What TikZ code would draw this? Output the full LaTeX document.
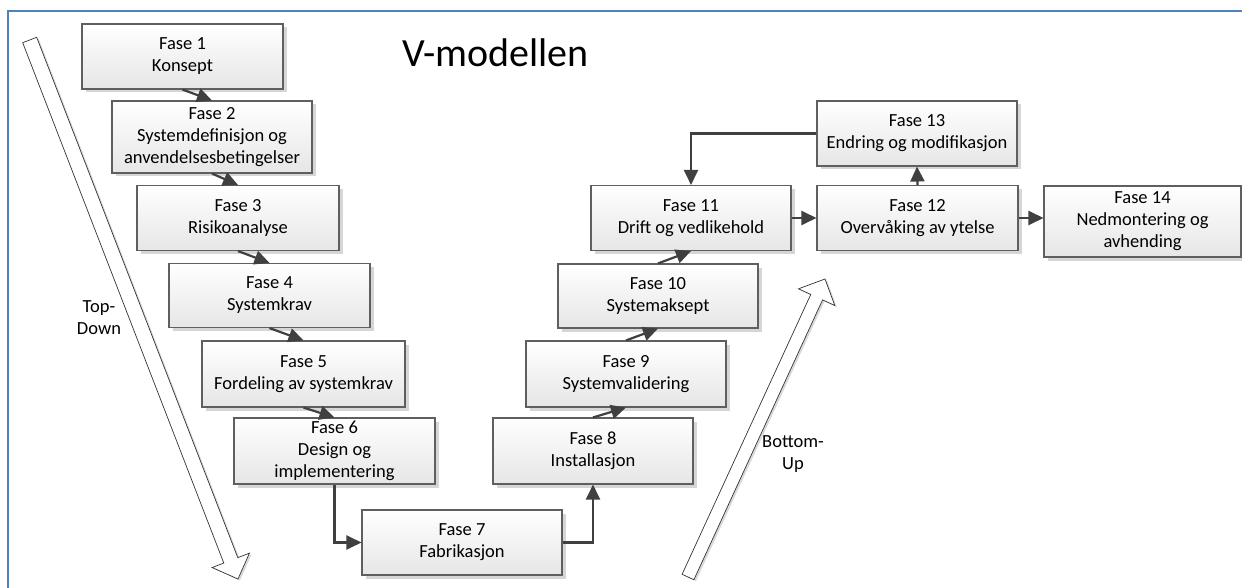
\documentclass[tikz,border=0pt]{standalone}
\usepackage{fontspec}
\setmainfont{Carlito}
\usetikzlibrary{shadows,arrows.meta,calc}
\definecolor{frameblue}{RGB}{79,129,189}
\definecolor{boxline}{RGB}{95,95,95}
\definecolor{connc}{RGB}{64,64,64}
\definecolor{boxbot}{RGB}{230,230,230}
\newcommand{\hollowarr}[4]{% #1 tail, #2 tip, #3 head-base name, #4 half shaft width
  \coordinate (#3) at ($(#2)!20pt!(#1)$);
  \filldraw[hollowarrow] ($(#1)!#4!90:(#2)$) -- ($(#3)!#4!90:(#2)$) -- ($(#3)!20pt!90:(#2)$) -- (#2)
    -- ($(#3)!20pt!-90:(#2)$) -- ($(#3)!#4!-90:(#2)$) -- ($(#1)!#4!-90:(#2)$) -- cycle;}
\begin{document}
\begin{tikzpicture}[x=1pt,y=-1pt,
  phase/.style={draw=boxline, line width=1.1pt, top color=white, bottom color=boxbot,
    minimum width=200pt, minimum height=65pt, align=center, inner sep=0pt,
    font=\fontsize{18.5}{22}\selectfont,
    drop shadow={shadow xshift=3.5pt, shadow yshift=-3.5pt, fill=black!16, opacity=1}},
  connector/.style={draw=connc, line width=2.2pt, -{Triangle[length=15pt,width=14pt]}},
  hollowarrow/.style={fill=white, draw=black!80, line width=0.7pt,
    drop shadow={shadow xshift=2pt, shadow yshift=-1.5pt, fill=black!15, opacity=1}},
  sidelabel/.style={align=center, font=\fontsize{18.5}{22}\selectfont, inner sep=0pt},
  titlelabel/.style={font=\fontsize{40}{48}\selectfont, inner sep=0pt}]
\clip (0,0) rectangle (1242,588);
\fill[white] (0,0) rectangle (1242,588);
\draw[frameblue, line width=2pt] (8,11) rectangle (1262,610);

% hollow arrows
\coordinate (tdA) at (29.7,40);
\coordinate (tdB) at (238,579);
\hollowarr{tdA}{tdB}{tdH}{7.5pt}
\coordinate (buA) at (688,577);
\coordinate (buB) at (825,279);
\hollowarr{buA}{buB}{buH}{6.5pt}

\node[sidelabel] (td) at (99,318) {Top-\\Down};
\node[sidelabel] (bu) at (793,454) {Bottom-\\Up};

\node[titlelabel, anchor=base] (title) at (495.5,67) {V-modellen};

% phases
\node[phase, minimum width=201pt] (f1) at (182.5,56.5) {Fase 1\\Konsept};
\node[phase, minimum height=72pt] (f2) at (212,137) {Fase 2\\Systemdefinisjon og\\anvendelsesbetingelser};
\node[phase, minimum width=202pt] (f3) at (238,218) {Fase 3\\Risikoanalyse};
\node[phase, minimum width=201pt, minimum height=64pt] (f4) at (269.5,295.5) {Fase 4\\Systemkrav};
\node[phase, minimum width=203pt, minimum height=66pt] (f5) at (303.5,374) {Fase 5\\Fordeling av systemkrav};
\node[phase, minimum width=201pt, minimum height=66pt] (f6) at (334.5,451) {Fase 6\\Design og\\implementering};
\node[phase] (f7) at (462,542.5) {Fase 7\\Fabrikasjon};
\node[phase, minimum height=66pt] (f8) at (593,451) {Fase 8\\Installasjon};
\node[phase, minimum height=66pt] (f9) at (626,374) {Fase 9\\Systemvalidering};
\node[phase, minimum height=64pt] (f10) at (658,296) {Fase 10\\Systemaksept};
\node[phase] (f11) at (691,218) {Fase 11\\Drift og vedlikehold};
\node[phase, minimum width=201pt] (f12) at (917.5,218) {Fase 12\\Overvåking av ytelse};
\node[phase] (f13) at (917,133.5) {Fase 13\\Endring og modifikasjon};
\node[phase, minimum width=197pt, minimum height=71pt] (f14) at (1142.5,221.5) {Fase 14\\Nedmontering og\\avhending};

% connectors
\draw[connector] (f1.south) -- (f2.north);
\draw[connector] (f2.south) -- (f3.north);
\draw[connector] (f3.south) -- (f4.north);
\draw[connector] (f4.south) -- (f5.north);
\draw[connector] (f5.south) -- (f6.north);
\draw[connector] (f6.south) |- (f7.west);
\draw[connector] (f7.east) -| (f8.south);
\draw[connector] (f8.north) -- (f9.south);
\draw[connector] (f9.north) -- (f10.south);
\draw[connector] (f10.north) -- (f11.south);
\draw[connector] (f11.east) -- (f12.west);
\draw[connector] (f12.north) -- (f13.south);
\draw[connector] (f13.west) -| (f11.north);
\draw[connector] (f12.east) -- (f12.east -| f14.west);
\end{tikzpicture}
\end{document}
